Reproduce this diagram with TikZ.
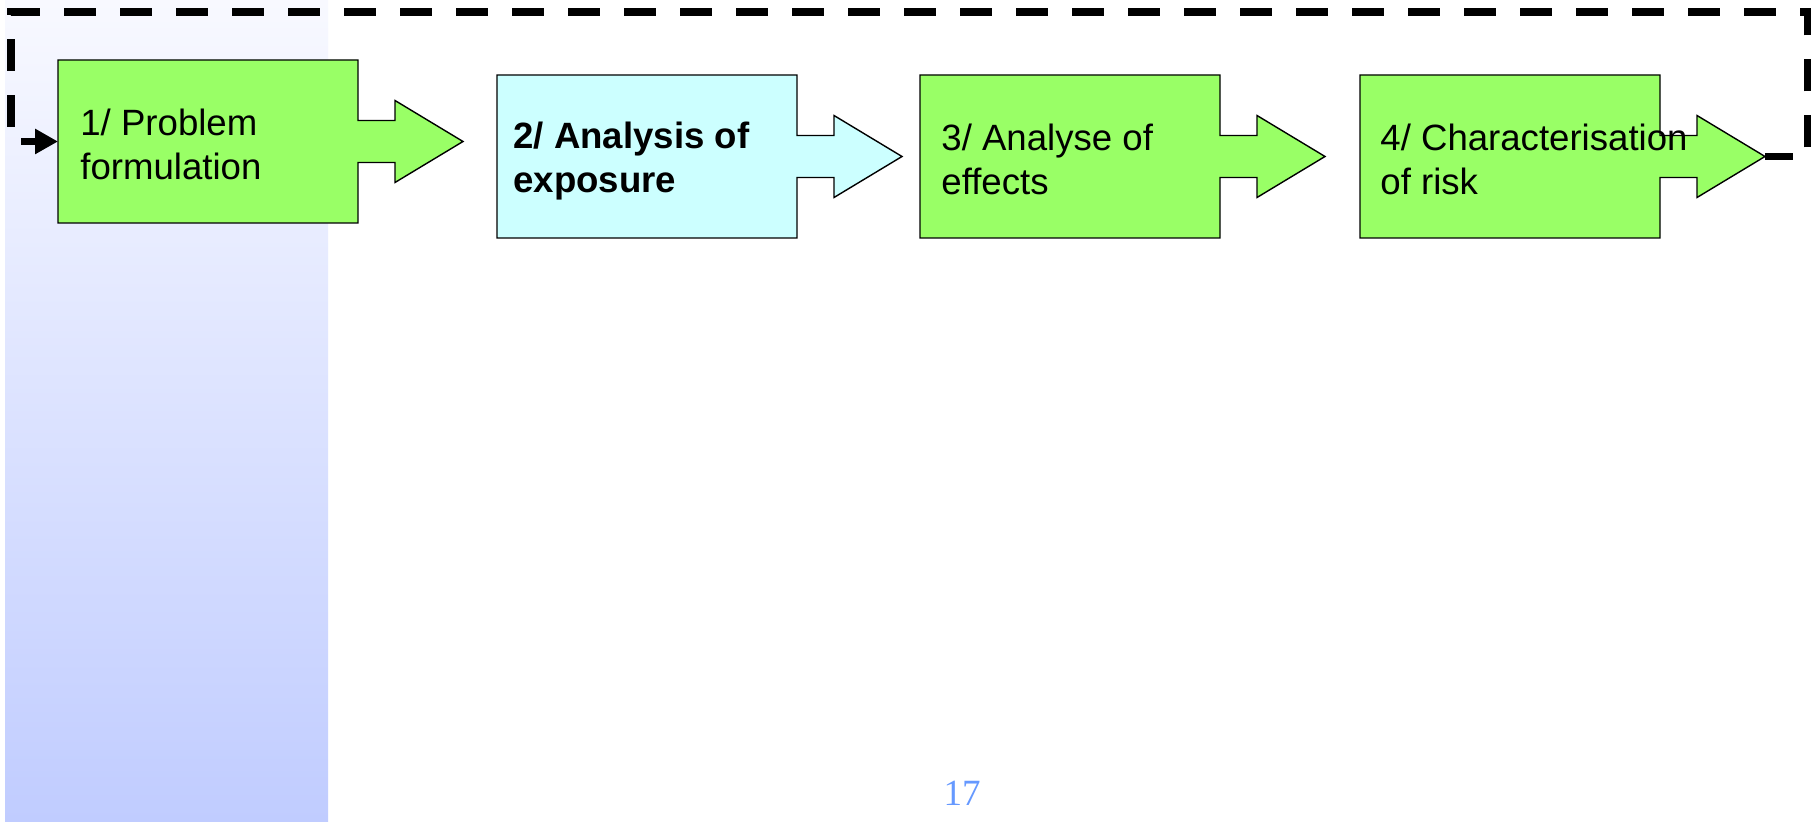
\documentclass[tikz,border=0pt]{standalone}
\usepackage{fontspec}
\setmainfont{Liberation Sans}
\newfontfamily\pagenumfont{Liberation Serif}
\usetikzlibrary{arrows.meta}
\definecolor{boxgreen}{HTML}{99FF66}
\definecolor{boxcyan}{HTML}{CCFFFF}
\definecolor{pagenum}{HTML}{6699FF}
\definecolor{bandtop}{HTML}{F8F9FF}
\definecolor{bandbot}{HTML}{C0CCFF}
\tikzset{
  shapeline/.style={draw=black, line width=0.7pt, line join=miter},
  steptext/.style={anchor=west, align=left, inner sep=0pt, text=black,
    font=\fontsize{18.3}{22}\selectfont},
  loopline/.style={draw=black, line width=3.6pt, dash pattern=on 16pt off 12pt,
    dash phase=2pt, line join=miter,
    -{Triangle[length=11.5pt,width=12pt]}},
}
% #1 name, #2 left x, #3 centre y, #4 fill colour
\newcommand\stepshape[4]{%
  \draw[shapeline, fill=#4] (#2,#3-81.5) -- ++(300,0) -- ++(0,60.5) -- ++(37,0)
    -- ++(0,-20) -- ++(68,41) -- ++(-68,41) -- ++(0,-20) -- ++(-37,0)
    -- ++(0,60.5) -- ++(-300,0) -- cycle;
  \coordinate (#1-w) at (#2,#3);
  \coordinate (#1-tip) at (#2+405,#3);
}
\begin{document}
\begin{tikzpicture}[x=0.5pt, y=-0.5pt]
  \useasboundingbox (0,0) rectangle (1811,822);
  \fill[white] (0,0) rectangle (1811,822);
  \shade[top color=bandtop, bottom color=bandbot] (5,0) rectangle (328,822);

  \stepshape{b1}{58}{141.5}{boxgreen}
  \stepshape{b2}{497}{156.5}{boxcyan}
  \stepshape{b3}{920}{156.5}{boxgreen}
  \stepshape{b4}{1360}{156.5}{boxgreen}

  \node[steptext] (t1) at (80,144.5) {1/ Problem\\formulation};
  \node[steptext, font=\fontsize{18.3}{22}\selectfont\bfseries] (t2) at (513,161.5) {2/ Analysis of\\exposure};
  \node[steptext] (t3) at (941,159.5) {3/ Analyse of\\effects};
  \node[steptext] (t4) at (1380,159.5) {4/ Characterisation\\of risk};

  \coordinate (cr) at (1808,12);
  \coordinate (cl) at (11,12);
  \draw[loopline] (b4-tip) -| (cr) -- (cl) |- (b1-w);

  \node[text=pagenum, inner sep=0pt, font=\pagenumfont\fontsize{18.5}{22}\selectfont] (pg) at (962,793.5) {17};
\end{tikzpicture}
\end{document}
